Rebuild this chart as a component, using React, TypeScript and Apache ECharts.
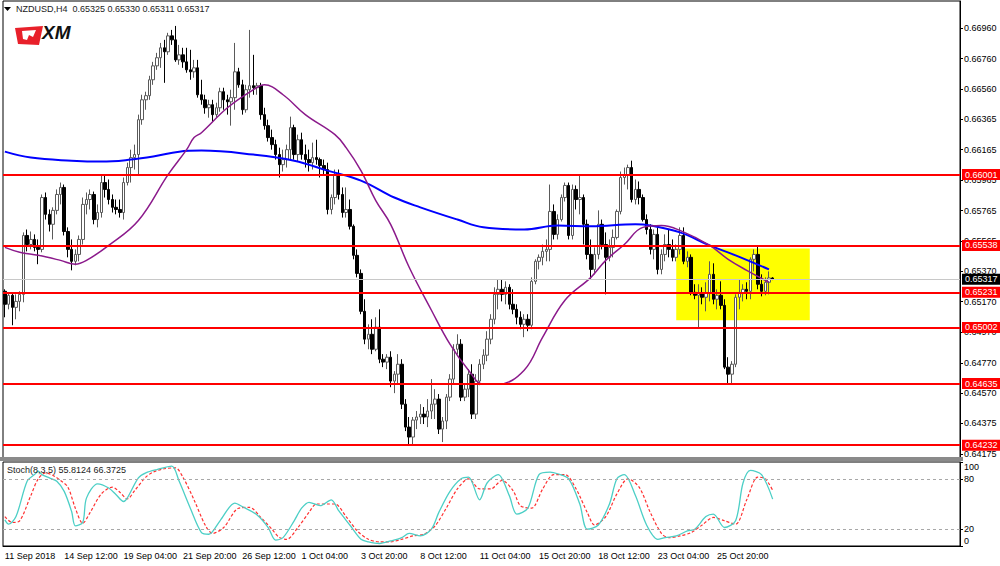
import React, { useEffect, useRef } from "react";
import * as echarts from "echarts";

// ---------- data ----------
const symbolTitle = "NZDUSD,H4";
const lastOHLC = ["0.65325", "0.65330", "0.65311", "0.65317"];
const stochTitle = "Stoch(8,3,5) 55.8124 66.3725";

const tickLabels = [
  "11 Sep 2018", "14 Sep 12:00", "19 Sep 04:00", "21 Sep 20:00", "26 Sep 12:00",
  "1 Oct 04:00", "3 Oct 20:00", "8 Oct 12:00", "11 Oct 04:00", "15 Oct 20:00",
  "18 Oct 12:00", "23 Oct 04:00", "25 Oct 20:00",
];
const BARS_PER_LABEL = 16;
const SLOT_COUNT = 258;

const priceTicks = [
  0.6696, 0.6676, 0.6656, 0.66365, 0.66165, 0.65965, 0.65765, 0.65565,
  0.6537, 0.6517, 0.6497, 0.6477, 0.6457, 0.64375, 0.64175,
];
const levels = [0.66001, 0.65538, 0.65231, 0.65002, 0.64635, 0.64232];
const currentPrice = 0.65317;
const zone = { fromBar: 181, toBar: 217, top: 0.65518, bottom: 0.65048 };
const stochLevels = [20, 80];
const stochTicks = [0, 20, 80, 100];

// OHLC in points (x 1e-5): [open, close, low, high]
const candlesPts = [
  [65238,65153,65068,65251],[65153,65212,65120,65225],[65212,65133,65016,65232],[65133,65172,65055,65218],
  [65172,65218,65107,65238],[65218,65603,65166,65623],[65603,65544,65499,65642],[65544,65577,65512,65629],
  [65577,65525,65499,65610],[65525,65512,65415,65577],[65512,65851,65493,65871],[65851,65741,65707,65884],
  [65741,65676,65629,65773],[65676,65767,65577,65787],[65767,65871,65741,65904],[65871,65917,65806,65949],
  [65917,65629,65603,65936],[65629,65512,65460,65656],[65512,65434,65375,65577],[65434,65479,65408,65512],
  [65479,65577,65434,65603],[65577,65806,65544,65851],[65806,65838,65741,65884],[65838,65871,65773,65904],
  [65871,65707,65676,65890],[65707,65753,65656,65806],[65753,65949,65720,66001],[65949,65904,65851,66001],
  [65904,65838,65806,65969],[65838,65787,65753,65871],[65787,65773,65741,65838],[65773,65753,65720,65838],
  [65753,65949,65707,65982],[65949,66047,65930,66079],[66047,66112,65949,66164],[66112,66132,66034,66197],
  [66132,66360,66001,66393],[66360,66490,66327,66523],[66490,66517,66425,66543],[66517,66621,66490,66647],
  [66621,66712,66588,66738],[66712,66765,66686,66797],[66765,66830,66699,66862],[66830,66804,66601,66882],
  [66804,66908,66784,66928],[66908,66882,66849,66947],[66882,66751,66738,66973],[66751,66784,66719,66849],
  [66784,66738,66699,66830],[66738,66686,66667,66830],[66686,66673,66621,66817],[66673,66699,66634,66751],
  [66699,66523,66504,66751],[66523,66490,66458,66621],[66490,66438,66399,66523],[66438,66458,66373,66490],
  [66458,66393,66347,66490],[66393,66438,66373,66471],[66438,66543,66412,66569],[66543,66490,66425,66569],
  [66490,66477,66393,66523],[66477,66504,66321,66556],[66504,66673,66425,66862],[66673,66588,66569,66699],
  [66588,66425,66393,66621],[66425,66556,66406,66588],[66556,66582,66504,66947],[66582,66569,66523,66784],
  [66569,66582,66523,66601],[66582,66393,66360,66601],[66393,66321,66295,66438],[66321,66243,66217,66360],
  [66243,66197,66164,66295],[66197,66132,66099,66229],[66132,66066,65982,66177],[66066,66099,66021,66164],
  [66099,66164,66047,66197],[66164,66308,66099,66380],[66308,66132,66099,66327],[66132,66229,66086,66262],
  [66229,66132,66099,66275],[66132,66099,66047,66197],[66099,66079,66021,66164],[66079,66112,66034,66210],
  [66112,66099,66066,66229],[66099,66060,65982,66112],[66060,66034,66001,66099],[66034,65773,65741,66079],
  [65773,65851,65741,65871],[65851,66001,65806,66034],[66001,65871,65838,66034],[65871,65753,65720,65917],
  [65753,65773,65720,65917],[65773,65663,65642,65838],[65663,65473,65447,65675],[65473,65355,65329,65512],
  [65355,65107,65088,65381],[65107,64925,64892,65186],[64925,64957,64859,65022],[64957,64859,64827,65055],
  [64859,65003,64846,65068],[65003,64794,64768,65120],[64794,64775,64742,64827],[64775,64807,64729,64827],
  [64807,64651,64611,64846],[64651,64696,64572,64716],[64696,64761,64631,64827],[64761,64500,64468,64794],
  [64500,64350,64324,64533],[64350,64285,64239,64416],[64285,64396,64239,64416],[64396,64416,64337,64455],
  [64416,64435,64370,64500],[64435,64416,64370,64481],[64416,64455,64350,64533],[64455,64500,64403,64664],
  [64500,64533,64403,64598],[64533,64337,64305,64566],[64337,64390,64252,64416],[64390,64546,64337,64566],
  [64546,64664,64520,64696],[64664,64859,64631,64892],[64859,64892,64827,64957],[64892,64546,64520,64925],
  [64546,64598,64520,64631],[64598,64696,64546,64729],[64696,64435,64403,64761],[64435,64651,64403,64696],
  [64651,64761,64624,64794],[64761,64820,64729,64859],[64820,64925,64781,64977],[64925,65055,64892,65088],
  [65055,65218,65022,65264],[65218,65251,65120,65316],[65251,65218,65172,65316],[65218,65264,65153,65303],
  [65264,65153,65120,65284],[65153,65120,65088,65251],[65120,65068,65022,65153],[65068,65022,64990,65107],
  [65022,65055,64938,65088],[65055,65016,64977,65088],[65016,65303,64990,65329],[65303,65434,65284,65447],
  [65434,65460,65381,65479],[65460,65499,65408,65544],[65499,65512,65434,65577],[65512,65760,65434,65936],
  [65760,65610,65577,65806],[65610,65707,65577,65741],[65707,65851,65694,65871],[65851,65930,65825,65949],
  [65930,65603,65577,65949],[65603,65904,65577,65936],[65904,65838,65773,65930],[65838,65851,65741,66001],
  [65851,65676,65544,65871],[65676,65479,65447,65707],[65479,65381,65316,65577],[65381,65479,65349,65525],
  [65479,65676,65447,65767],[65676,65544,65512,65707],[65544,65460,65218,65623],[65460,65525,65434,65577],
  [65525,65590,65460,65642],[65590,65760,65577,65773],[65760,65982,65741,66021],[65982,66001,65936,66047],
  [66001,66047,65904,66066],[66047,65838,65819,66092],[65838,65904,65806,65969],[65904,65851,65806,65956],
  [65851,65707,65694,65871],[65707,65642,65610,65741],[65642,65512,65479,65676],[65512,65610,65447,65642],
  [65610,65381,65349,65656],[65381,65479,65349,65512],[65479,65544,65434,65610],[65544,65512,65460,65642],
  [65512,65460,65434,65577],[65460,65512,65434,65544],[65512,65603,65479,65656],[65603,65434,65415,65656],
  [65434,65460,65395,65499],[65460,65231,65212,65479],[65231,65212,65186,65284],[65212,65225,65003,65284],
  [65225,65199,65153,65264],[65199,65225,65107,65297],[65225,65349,65172,65434],[65349,65186,65153,65421],
  [65186,65212,65120,65251],[65212,65146,65120,65303],[65146,64742,64729,65186],[64742,64696,64631,64807],
  [64696,64761,64637,64781],[64761,65199,64742,65218],[65199,65225,65120,65316],[65225,65251,65172,65284],
  [65251,65238,65186,65297],[65238,65447,65186,65460],[65447,65479,65368,65512],[65479,65284,65251,65538],
  [65284,65238,65205,65349],[65238,65297,65212,65329],[65297,65325,65218,65368],[65325,65317,65311,65330],
];

// moving averages read at sample bars: [bar, points]
const slowMA = [
  [0,66151],[7,66112],[18,66092],[26,66086],[34,66099],[40,66119],[47,66151],[53,66158],[67,66132],
  [78,66092],[87,66027],[96,65962],[105,65851],[112,65787],[122,65707],[129,65656],[140,65642],
  [149,65668],[158,65663],[170,65676],[174,65668],[182,65623],[190,65538],[197,65473],[206,65381],
];
const fastMA = [
  [0,65525],[4,65493],[9,65473],[15,65440],[19,65415],[22,65440],[28,65538],[36,65701],[44,66001],
  [49,66164],[51,66243],[53,66275],[60,66438],[67,66556],[70,66588],[75,66523],[81,66393],[89,66262],
  [92,66177],[96,66027],[100,65831],[104,65676],[109,65395],[115,65114],[120,64892],[125,64722],
  [129,64631],[133,64631],[140,64722],[145,64938],[151,65179],[158,65329],[162,65440],[167,65544],
  [172,65656],[177,65668],[182,65636],[190,65538],[195,65447],[200,65375],[206,65297],
];

// stochastic read at sample bars: [bar, value]
const stochMain = [
  [0,31],[1,26],[3,35],[6,77],[8,85],[9,89],[10,85],[12,81],[14,77],[16,65],[18,41],[19,24],[21,28],
  [22,57],[25,74],[28,69],[30,61],[32,53],[33,57],[36,81],[38,87],[41,91],[45,95],[47,77],[50,45],
  [53,16],[55,14],[58,30],[62,51],[64,47],[68,37],[71,22],[73,7],[75,10],[78,30],[80,45],[82,52],
  [85,48],[88,55],[90,42],[93,25],[96,8],[98,5],[101,3],[104,6],[107,10],[109,15],[112,12],[115,20],
  [117,40],[120,65],[123,80],[125,82],[128,55],[130,75],[133,85],[136,60],[138,38],[141,45],[144,85],
  [147,88],[149,86],[152,80],[155,50],[157,20],[160,25],[163,50],[165,80],[167,85],[170,60],[173,25],
  [176,8],[178,10],[181,12],[184,18],[186,20],[189,35],[191,38],[194,22],[197,30],[199,75],[201,90],
  [204,85],[207,55.8124],
];
const stochSignal = [
  [0,35],[2,28],[4,30],[7,60],[9,80],[11,87],[13,84],[15,78],[17,70],[19,45],[21,27],[23,40],[26,62],
  [29,70],[31,64],[33,56],[35,66],[38,82],[40,88],[43,92],[46,93],[48,82],[51,55],[54,25],[56,15],
  [59,22],[63,45],[66,46],[69,34],[72,20],[74,10],[76,8],[79,22],[82,40],[84,50],[87,50],[89,50],
  [92,35],[95,18],[98,8],[101,5],[104,5],[107,8],[110,12],[113,14],[116,24],[119,45],[122,68],[125,80],
  [128,68],[131,68],[134,78],[137,66],[139,48],[142,45],[145,68],[148,85],[151,85],[154,68],[157,40],
  [159,25],[162,35],[165,62],[168,80],[171,70],[174,40],[177,15],[179,10],[182,12],[185,16],[188,25],
  [191,34],[194,30],[197,26],[200,55],[203,82],[205,80],[207,66.3725],
];

// ---------- chart ----------
const FONT = "Liberation Sans";

export default function App() {
  const ref = useRef<HTMLDivElement>(null);

  useEffect(() => {
    if (!ref.current) return;
    const chart = echarts.init(ref.current, null, { renderer: "svg" });

    const categories = Array.from({ length: SLOT_COUNT }, (_, i) =>
      i % BARS_PER_LABEL === 0 && tickLabels[i / BARS_PER_LABEL] ? tickLabels[i / BARS_PER_LABEL] : ""
    );
    const toPrice = (p: number) => p / 1e5;
    const candles = candlesPts.map((c) => c.map(toPrice));
    const ma = (arr: number[][]) => arr.map(([i, v]) => [i, toPrice(v)]);
    const showLabel = (_i: number, v: string) => v !== "";

    const levelLabel = {
      show: true,
      position: "end",
      distance: 2,
      color: "#fff",
      fontSize: 9,
      fontFamily: FONT,
      padding: [1, 3, 1, 3],
    };
    const markLineSeries = (
      values: number[],
      lineColor: string,
      width: number,
      boxColor: string,
      z: number
    ) => ({
      type: "line",
      xAxisIndex: 0,
      yAxisIndex: 0,
      data: [],
      z,
      silent: true,
      markLine: {
        silent: true,
        precision: 5,
        symbol: ["none", "none"],
        lineStyle: { color: lineColor, width, type: "solid" },
        label: { ...levelLabel, backgroundColor: boxColor, formatter: (p: any) => Number(p.value).toFixed(5) },
        data: values.map((v) => ({ yAxis: v })),
      },
    });

    const option: any = {
      animation: false,
      backgroundColor: "#fff",
      textStyle: { fontFamily: FONT },
      grid: [
        { left: 3, right: 40, top: 1, height: 457, show: true, borderColor: "#000", borderWidth: 1 },
        { left: 3, right: 40, top: 462, height: 84, show: true, borderColor: "#000", borderWidth: 1 },
      ],
      xAxis: [
        { type: "category", gridIndex: 0, data: categories, boundaryGap: true, show: false },
        {
          type: "category",
          gridIndex: 1,
          data: categories,
          boundaryGap: true,
          axisLine: { lineStyle: { color: "#000", width: 1 } },
          axisTick: { alignWithLabel: true, interval: showLabel, length: 3, lineStyle: { color: "#000" } },
          axisLabel: {
            interval: showLabel,
            align: "left",
            margin: 5,
            fontSize: 9,
            color: "#000",
            fontFamily: FONT,
          },
          splitLine: { show: false },
        },
      ],
      yAxis: [
        {
          type: "value",
          gridIndex: 0,
          position: "right",
          min: 0.64148,
          max: 0.67136,
          axisLine: { show: true, lineStyle: { color: "#000" } },
          axisTick: { show: true, length: 3, customValues: priceTicks, lineStyle: { color: "#000" } },
          axisLabel: {
            customValues: priceTicks,
            formatter: (v: number) => v.toFixed(5),
            fontSize: 9,
            color: "#000",
            margin: 4,
            fontFamily: FONT,
          },
          splitLine: { show: false },
        },
        {
          type: "value",
          gridIndex: 1,
          position: "right",
          min: 0,
          max: 100,
          axisLine: { show: true, lineStyle: { color: "#000" } },
          axisTick: { show: true, length: 3, customValues: stochTicks, lineStyle: { color: "#000" } },
          axisLabel: {
            customValues: stochTicks,
            formatter: (v: number) => (v === 100 ? "{t|100}" : v === 0 ? "{b|0}" : String(v)),
            rich: {
              t: { padding: [9, 0, 0, 0], fontSize: 9, color: "#000", fontFamily: FONT },
              b: { padding: [0, 0, 11, 0], fontSize: 9, color: "#000", fontFamily: FONT },
            },
            fontSize: 9,
            color: "#000",
            margin: 4,
            fontFamily: FONT,
          },
          splitLine: { show: false },
        },
      ],
      series: [
        {
          type: "line",
          xAxisIndex: 0,
          yAxisIndex: 0,
          data: [],
          z: 1,
          silent: true,
          markArea: {
            silent: true,
            itemStyle: { color: "#ffff00", opacity: 1 },
            data: [[{ coord: [zone.fromBar, zone.top] }, { coord: [zone.toBar, zone.bottom] }]],
          },
        },
        markLineSeries([currentPrice], "#c8c8c8", 1, "#000", 2),
        {
          type: "candlestick",
          xAxisIndex: 0,
          yAxisIndex: 0,
          data: candles,
          barWidth: 3,
          z: 3,
          itemStyle: {
            color: "#ffffff",
            color0: "#000000",
            borderColor: "#5a5a5a",
            borderColor0: "#000000",
            borderWidth: 1,
          },
        },
        {
          type: "line",
          xAxisIndex: 0,
          yAxisIndex: 0,
          data: ma(slowMA),
          smooth: 0.4,
          showSymbol: false,
          z: 4,
          lineStyle: { color: "#0000ff", width: 2 },
        },
        {
          type: "line",
          xAxisIndex: 0,
          yAxisIndex: 0,
          data: ma(fastMA),
          smooth: 0.4,
          showSymbol: false,
          z: 4,
          lineStyle: { color: "#8b1a8b", width: 1.5 },
        },
        markLineSeries(levels, "#ff0000", 2, "#ff0000", 5),
        {
          type: "line",
          xAxisIndex: 1,
          yAxisIndex: 1,
          data: stochSignal,
          smooth: 0.3,
          showSymbol: false,
          z: 3,
          lineStyle: { color: "#ff3030", width: 1.2, type: [3, 2] },
        },
        {
          type: "line",
          xAxisIndex: 1,
          yAxisIndex: 1,
          data: stochMain,
          smooth: 0.3,
          showSymbol: false,
          z: 4,
          lineStyle: { color: "#4ccfc6", width: 1.3 },
          markLine: {
            silent: true,
            symbol: ["none", "none"],
            label: { show: false },
            lineStyle: { color: "#a8a8a8", width: 1, type: [3, 3] },
            data: stochLevels.map((v) => ({ yAxis: v })),
          },
        },
      ],
      graphic: [
        { type: "rect", shape: { x: 0, y: 457, width: 963, height: 4 }, style: { fill: "#8a8a8a" }, z: 10 },
        { type: "polygon", shape: { points: [[4, 7], [11, 7], [7.5, 11]] }, style: { fill: "#000" }, z: 10 },
        {
          type: "text",
          x: 16,
          y: 4,
          style: {
            text: `${symbolTitle}  ${lastOHLC.join(" ")}`,
            font: `9px "${FONT}"`,
            fill: "#222",
          },
          z: 10,
        },
        {
          type: "polygon",
          shape: { points: [[15, 28], [43, 26], [39, 45], [18, 44]] },
          style: { fill: "#e8202a" },
          z: 10,
        },
        {
          type: "polygon",
          shape: { points: [[22, 31], [36, 30], [33, 37], [29, 35], [27, 40], [23, 39]] },
          style: { fill: "#fff" },
          z: 11,
        },
        {
          type: "text",
          x: 42,
          y: 23,
          style: { text: "XM", font: `italic 900 19px "${FONT}"`, fill: "#111" },
          z: 10,
        },
        {
          type: "text",
          x: 7,
          y: 465,
          style: { text: stochTitle, font: `9px "${FONT}"`, fill: "#222" },
          z: 10,
        },
      ],
    };

    chart.setOption(option);
    return () => chart.dispose();
  }, []);

  return (
    <div
      ref={ref}
      style={{ position: "fixed", left: 0, top: 0, width: 1000, height: 566, background: "#fff" }}
    />
  );
}
